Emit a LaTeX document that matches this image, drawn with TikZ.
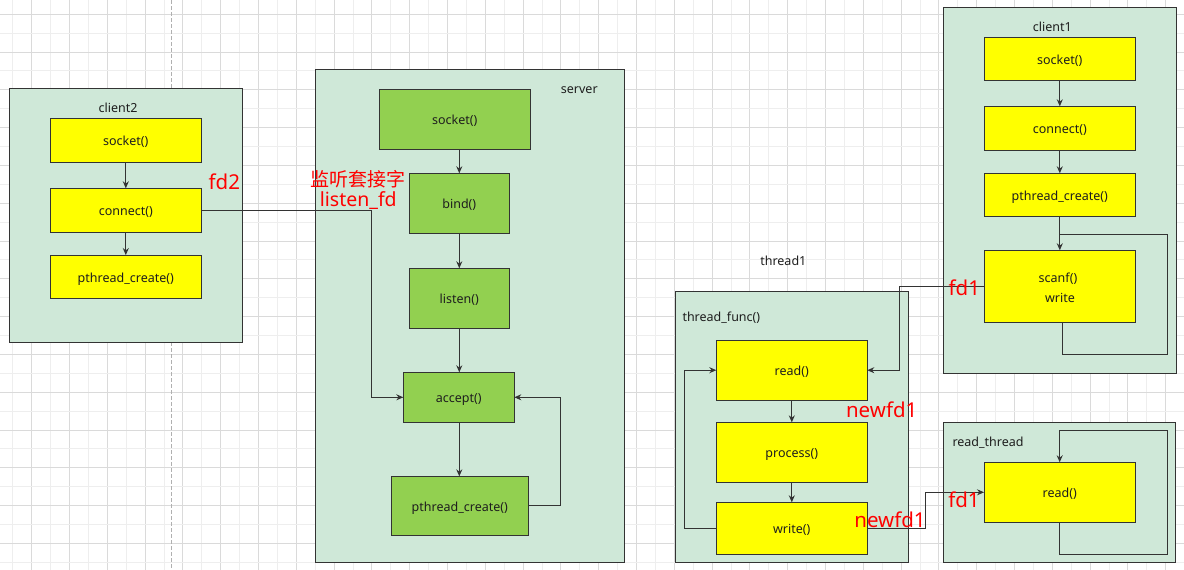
\documentclass[tikz,border=0pt]{standalone}
\usepackage{fontspec}
\setmainfont{Noto Sans}
\newfontfamily\cjk{Noto Sans CJK SC}
\usetikzlibrary{arrows.meta}
\definecolor{contfill}{HTML}{CFE8D8}
\definecolor{yel}{HTML}{FFFF00}
\definecolor{grn}{HTML}{92D050}
\definecolor{edge}{HTML}{333333}
\definecolor{txt}{HTML}{1E1E1E}
\definecolor{gmin}{HTML}{EEEEEE}
\definecolor{gmaj}{HTML}{DADADA}
\definecolor{dashgray}{HTML}{B0B0B0}
\definecolor{redlab}{HTML}{FF0000}
\tikzset{
  cont/.style={draw=edge, fill=contfill, line width=1pt, inner sep=0pt, outer sep=0pt},
  ybox/.style={draw=edge, fill=yel, line width=1pt, inner sep=0pt, outer sep=0pt, text=txt, font=\fontsize{12.5}{15}\selectfont, text height=11pt, text depth=0pt},
  gbox/.style={draw=edge, fill=grn, line width=1pt, inner sep=0pt, outer sep=0pt, text=txt, font=\fontsize{12.5}{15}\selectfont, text height=11pt, text depth=0pt},
  clab/.style={text=txt, font=\fontsize{12.5}{15}\selectfont, inner sep=0pt},
  rlab/.style={text=redlab, font=\fontsize{20.5}{24}\selectfont, inner sep=0pt},
  rcjk/.style={text=redlab, font=\cjk\fontsize{19}{22}\selectfont, inner sep=0pt},
  arr/.style={draw=edge, line width=1pt, -{Stealth[length=7pt,width=6pt]}},
  ln/.style={draw=edge, line width=1pt},
}
\begin{document}
\begin{tikzpicture}[x=1pt,y=-1pt]
\useasboundingbox (0,0) rectangle (1184,570);
\fill[white] (0,0) rectangle (1184,570);
% grid
\foreach \k in {0,...,62} {
  \pgfmathsetmacro\gx{12.7+18.9*\k}
  \pgfmathtruncatemacro\gpar{mod(\k,2)}
  \ifnum\gpar=0 \draw[gmin, line width=0.8pt] (\gx,0) -- (\gx,570); \fi
}
\foreach \k in {0,...,62} {
  \pgfmathsetmacro\gx{12.7+18.9*\k}
  \pgfmathtruncatemacro\gpar{mod(\k,2)}
  \ifnum\gpar=1 \draw[gmaj, line width=0.8pt] (\gx,0) -- (\gx,570); \fi
}
\foreach \k in {0,...,30} {
  \pgfmathsetmacro\gy{14.1+18.9*\k}
  \pgfmathtruncatemacro\gpar{mod(\k,2)}
  \ifnum\gpar=1 \draw[gmin, line width=0.8pt] (0,\gy) -- (1184,\gy); \fi
}
\foreach \k in {0,...,30} {
  \pgfmathsetmacro\gy{14.1+18.9*\k}
  \pgfmathtruncatemacro\gpar{mod(\k,2)}
  \ifnum\gpar=0 \draw[gmaj, line width=0.8pt] (0,\gy) -- (1184,\gy); \fi
}
\draw[dashgray, line width=1pt, dash pattern=on 4pt off 2pt] (171.7,0) -- (171.7,570);

% containers
\node[cont, minimum width=233, minimum height=254] (client2) at (125.8,215.3) {};
\node[cont, minimum width=309, minimum height=493] (server) at (469.8,315.8) {};
\node[cont, minimum width=233, minimum height=270.6] (tfunc) at (791.8,427) {};
\node[cont, minimum width=233, minimum height=365.7] (client1) at (1059.8,190.2) {};
\node[cont, minimum width=232.3, minimum height=140] (rthread) at (1059.8,492.3) {};

% container labels
\node[clab] (l2) at (118,108.3) {client2};
\node[clab] (ls) at (579.3,90) {server};
\node[clab] (lt1) at (783.3,261) {thread1};
\node[clab, anchor=west] (ltf) at (682.3,317.7) {thread\_func()};
\node[clab] (l1) at (1052.3,27.3) {client1};
\node[clab, anchor=west] (lrt) at (952.3,442.7) {read\_thread};

% client2
\node[ybox, minimum width=151, minimum height=44] (c2sock) at (125.8,140.3) {socket()};
\node[ybox, minimum width=151, minimum height=44] (c2conn) at (125.8,210.3) {connect()};
\node[ybox, minimum width=151, minimum height=43.3] (c2pth) at (125.8,276.7) {pthread\_create()};

% server
\node[gbox, minimum width=151, minimum height=60] (ssock) at (454.8,119.3) {socket()};
\node[gbox, minimum width=100, minimum height=60] (sbind) at (459.3,203.3) {bind()};
\node[gbox, minimum width=100, minimum height=60] (slist) at (459.3,298.3) {listen()};
\node[gbox, minimum width=111, minimum height=50] (sacc) at (458.8,397.3) {accept()};
\node[gbox, minimum width=137, minimum height=58.7] (spth) at (459.8,505.7) {pthread\_create()};

% thread_func
\node[ybox, minimum width=151, minimum height=59.7] (tread) at (791.8,370.2) {read()};
\node[ybox, minimum width=151, minimum height=59.7] (tproc) at (791.8,452.2) {process()};
\node[ybox, minimum width=151, minimum height=52] (twrite) at (791.8,528.3) {write()};

% client1
\node[ybox, minimum width=151, minimum height=43] (c1sock) at (1059.8,58.8) {socket()};
\node[ybox, minimum width=151, minimum height=44] (c1conn) at (1059.8,128.3) {connect()};
\node[ybox, minimum width=151, minimum height=43] (c1pth) at (1059.8,194.8) {pthread\_create()};
\node[ybox, minimum width=151, minimum height=72] (c1scan) at (1059.8,286.3) {};
\node[clab] (scanft) at (1058,279) {scanf()};
\node[clab] (writet) at (1060,297.5) {write};

% read_thread
\node[ybox, minimum width=151.3, minimum height=60] (rread) at (1059.7,492.3) {read()};

% junction coordinates
\coordinate (j1) at (371,210.3);
\coordinate (j2) at (560,505.7);
\coordinate (j3) at (684.3,528.3);
\coordinate (j4) at (899.3,286.3);
\coordinate (j5) at (925.3,528.3);
\coordinate (j6) at (1062.3,354);
\coordinate (j7) at (1167.3,234.3);
\coordinate (j8) at (1059.8,234.3);
\coordinate (k1) at (1167.3,554.3);
\coordinate (k2) at (1167.3,430.7);

% server connectors
\draw[arr] (ssock.south -| sbind.north) -- (sbind.north);
\draw[arr] (sbind.south) -- (slist.north);
\draw[arr] (slist.south) -- (sacc.north -| slist.south);
\draw[arr] (sacc.south -| slist.south) -- (spth.north -| slist.south);
\draw[arr] (spth.east) -- (j2) |- (sacc.east);
\draw[arr] (c2conn.east) -- (j1) |- (sacc.west);

% client2 connectors
\draw[arr] (c2sock.south) -- (c2conn.north);
\draw[arr] (c2conn.south) -- (c2pth.north);

% thread connectors
\draw[arr] (tread.south) -- (tproc.north);
\draw[arr] (tproc.south) -- (twrite.north);
\draw[arr] (twrite.west) -- (j3) |- (tread.west);
\draw[arr] (c1scan.west) -- (j4) |- (tread.east);
\draw[arr] (twrite.east) -- (j5) |- (rread.west);

% client1 connectors
\draw[arr] (c1sock.south) -- (c1conn.north);
\draw[arr] (c1conn.south) -- (c1pth.north);
\draw[arr] (c1pth.south) -- (c1scan.north);
\draw[ln] (c1scan.south -| j6) -- (j6) -| (j7) -- (j8);

% read_thread loop
\draw[arr] (rread.south) |- (k1) -- (k2) -| (rread.north);

% red labels
\node[rlab] (fd2) at (224.3,181.7) {fd2};
\node[rcjk] (lfdc) at (358.3,179) {监听套接字};
\node[rlab, font=\fontsize{19.5}{22}\selectfont] (lfd) at (358.3,201) {listen\_fd};
\node[rlab] (fd1a) at (964.3,287.3) {fd1};
\node[rlab] (nfd1a) at (881.7,410) {newfd1};
\node[rlab] (nfd1b) at (890,520) {newfd1};
\node[rlab] (fd1b) at (964,500) {fd1};
\end{tikzpicture}
\end{document}
